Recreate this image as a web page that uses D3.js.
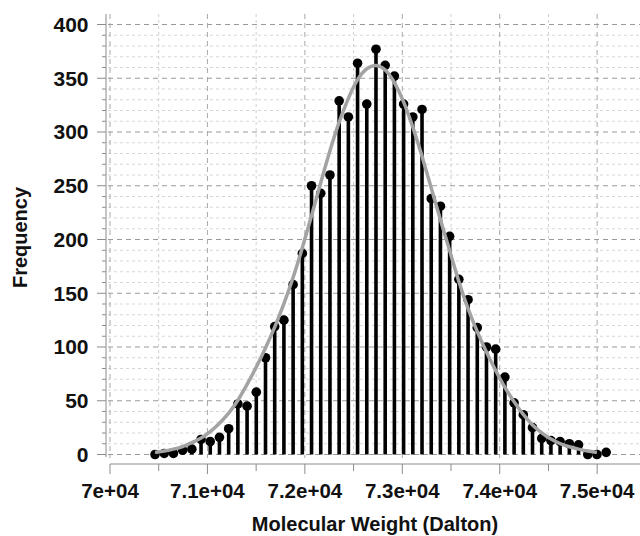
<!DOCTYPE html>
<html>
<head>
<meta charset="utf-8">
<script src="https://cdn.jsdelivr.net/npm/d3@7"></script>
<style>
  body { margin: 0; background: #fff; }
  svg { display: block; font-family: "Liberation Sans", Arial, sans-serif; }
</style>
</head>
<body>
<div id="chart"></div>
<script>
// histogram bins (Dalton) - evenly spaced bin centres
var binStart = 70462,
    binWidth = 94.5;

// counts per bin
var counts = [0, 1, 1, 4, 5, 14, 12, 16, 24, 47,
              45, 58, 90, 119, 125, 158, 187, 250, 243, 260,
              329, 314, 364, 326, 377, 362, 352, 326, 314, 321,
              238, 231, 203, 163, 144, 118, 100, 98, 72, 48,
              37, 25, 15, 13, 12, 10, 9, 0, 0, 2];

// fitted curve, read at the same bin centres
var fitFreq = [2, 3, 5, 7, 11, 15, 21, 29, 38, 50,
               65, 81, 99, 118, 140, 164, 192, 222, 253, 283,
               310, 332, 350, 360, 363, 359, 347, 329, 305, 278,
               248, 218, 190, 160, 135, 114, 95, 78, 62, 49,
               37, 27, 20, 14, 10, 7, 5, 3, 2];

var xTicks = [70000, 71000, 72000, 73000, 74000, 75000];
var xTickLabels = ["7e+04", "7.1e+04", "7.2e+04", "7.3e+04", "7.4e+04", "7.5e+04"];
var yTicks = [0, 50, 100, 150, 200, 250, 300, 350, 400];

var width = 640, height = 536;
var plot = { left: 110, right: 641, top: 24.5, bottom: 454.5 };
var gridBox = { left: 108, right: 640, top: 14, bottom: 458 };

var svg = d3.select("#chart")
  .append("svg")
  .attr("width", width)
  .attr("height", height);

var x = d3.scaleLinear()
  .domain([70000, 75450])
  .range([plot.left, plot.right]);

var y = d3.scaleLinear()
  .domain([0, 400])
  .range([plot.bottom, plot.top]);

var bins = counts.map(function(c, i) {
  return { w: binStart + i * binWidth, n: c };
});
var fit = fitFreq.map(function(f, i) {
  return { w: binStart + i * binWidth, n: f };
});

// grid
var grid = svg.append("g");
var minorY = d3.range(0, 401, 10).filter(function(v) { return v % 50 != 0; });
grid.selectAll(".ymin")
  .data(minorY)
  .enter().append("line")
  .attr("x1", gridBox.left).attr("x2", gridBox.right)
  .attr("y1", function(d) { return y(d); }).attr("y2", function(d) { return y(d); })
  .attr("stroke", "#d6d6d6").attr("stroke-dasharray", "3,3");

var minorX = d3.range(70500, 75500, 1000);
grid.selectAll(".xmin")
  .data(minorX)
  .enter().append("line")
  .attr("y1", gridBox.top).attr("y2", gridBox.bottom)
  .attr("x1", function(d) { return x(d); }).attr("x2", function(d) { return x(d); })
  .attr("stroke", "#d0d0d0").attr("stroke-dasharray", "3,3");

grid.selectAll(".ymaj")
  .data(yTicks)
  .enter().append("line")
  .attr("x1", gridBox.left).attr("x2", gridBox.right)
  .attr("y1", function(d) { return y(d); }).attr("y2", function(d) { return y(d); })
  .attr("stroke", "#9a9a9a").attr("stroke-dasharray", "5,4");

grid.selectAll(".xmaj")
  .data(xTicks)
  .enter().append("line")
  .attr("y1", gridBox.top).attr("y2", gridBox.bottom)
  .attr("x1", function(d) { return x(d); }).attr("x2", function(d) { return x(d); })
  .attr("stroke", "#a8a8a8").attr("stroke-dasharray", "5,4");

// stems
svg.append("g")
  .selectAll("line")
  .data(bins)
  .enter().append("line")
  .attr("x1", function(d) { return x(d.w); })
  .attr("x2", function(d) { return x(d.w); })
  .attr("y1", y(0))
  .attr("y2", function(d) { return y(d.n); })
  .attr("stroke", "#000")
  .attr("stroke-width", 3.6);

// dots
svg.append("g")
  .selectAll("circle")
  .data(bins)
  .enter().append("circle")
  .attr("cx", function(d) { return x(d.w); })
  .attr("cy", function(d) { return y(d.n); })
  .attr("r", 4.8)
  .attr("fill", "#000");

// fitted curve
svg.append("path")
  .datum(fit)
  .attr("fill", "none")
  .attr("stroke", "#a3a3a3")
  .attr("stroke-width", 3.5)
  .attr("stroke-linejoin", "round")
  .attr("d", d3.line()
    .curve(d3.curveBasis)
    .x(function(d) { return x(d.w); })
    .y(function(d) { return y(d.n); }));

// y axis
var yAxisG = svg.append("g")
  .attr("transform", "translate(106,0)");
yAxisG.append("line")
  .attr("y1", gridBox.top).attr("y2", gridBox.bottom - 1)
  .attr("stroke", "#8c8c8c");
yAxisG.selectAll(".ymtick")
  .data(d3.range(0, 401, 10))
  .enter().append("line")
  .attr("x1", function(d) { return d % 50 == 0 ? -9 : -4; })
  .attr("x2", 0)
  .attr("y1", function(d) { return y(d); }).attr("y2", function(d) { return y(d); })
  .attr("stroke", "#8c8c8c");
yAxisG.selectAll("text")
  .data(yTicks)
  .enter().append("text")
  .attr("x", -17.5)
  .attr("y", function(d) { return y(d); })
  .attr("dy", "0.35em")
  .attr("text-anchor", "end")
  .attr("font-size", 21)
  .attr("font-weight", "bold")
  .attr("fill", "#111")
  .text(function(d) { return d; });

// x axis
var xAxisG = svg.append("g")
  .attr("transform", "translate(0,464)");
xAxisG.append("line")
  .attr("x1", x(70000)).attr("x2", gridBox.right)
  .attr("stroke", "#8c8c8c");
xAxisG.selectAll(".xtk")
  .data(d3.range(70000, 75500, 500))
  .enter().append("line")
  .attr("x1", function(d) { return x(d); }).attr("x2", function(d) { return x(d); })
  .attr("y1", 0)
  .attr("y2", function(d) { return d % 1000 == 0 ? 10 : 7; })
  .attr("stroke", "#8c8c8c");
xAxisG.selectAll("text")
  .data(xTicks)
  .enter().append("text")
  .attr("x", function(d) { return x(d); })
  .attr("y", 34)
  .attr("text-anchor", "middle")
  .attr("font-size", 20.5)
  .attr("font-weight", "bold")
  .attr("fill", "#111")
  .text(function(d, i) { return xTickLabels[i]; });

// titles
svg.append("text")
  .attr("x", 375)
  .attr("y", 531)
  .attr("text-anchor", "middle")
  .attr("font-size", 20)
  .attr("font-weight", "bold")
  .attr("fill", "#111")
  .text("Molecular Weight (Dalton)");

svg.append("text")
  .attr("transform", "translate(26.5,237.5) rotate(-90)")
  .attr("text-anchor", "middle")
  .attr("font-size", 20)
  .attr("font-weight", "bold")
  .attr("fill", "#111")
  .text("Frequency");
</script>
</body>
</html>
